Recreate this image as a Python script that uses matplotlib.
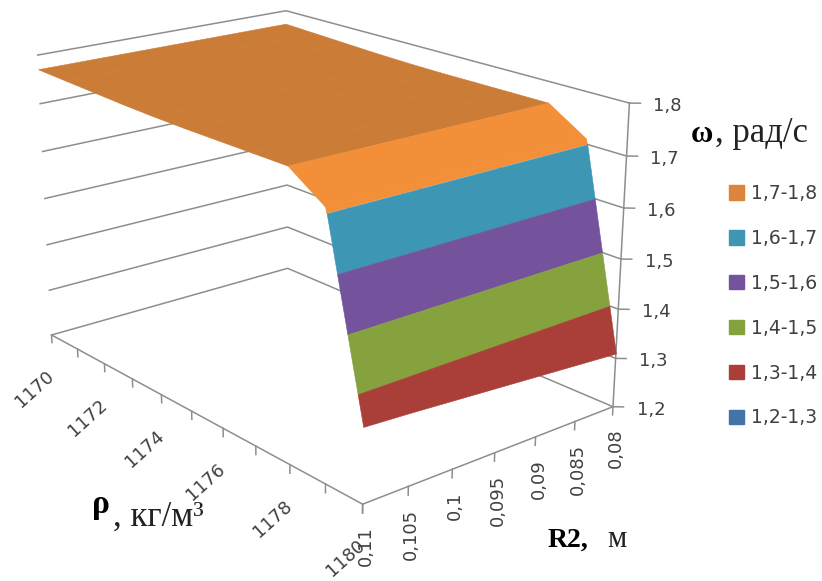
import numpy as np
import matplotlib
matplotlib.use('Agg')
import matplotlib.pyplot as plt
from matplotlib.patches import Patch
from mpl_toolkits.mplot3d import proj3d

plt.rcParams['font.family'] = ['DejaVu Sans']

# data
rho = [1170, 1171, 1172, 1173, 1174, 1175, 1176, 1177, 1178, 1179, 1180]
r2 = [0.08, 0.085, 0.09, 0.095, 0.1, 0.105, 0.11]
# omega along rho up to 1179 (same for every R2), then the last row at rho=1180 for each R2
omega = [1.77, 1.767, 1.764, 1.761, 1.759, 1.758, 1.758, 1.758, 1.758, 1.71]
omega_last = [1.31, 1.316, 1.322, 1.328, 1.334, 1.34, 1.345]

rho_labels = ['1170', '1172', '1174', '1176', '1178', '1180']
r2_labels = ['0,08', '0,085', '0,09', '0,095', '0,1', '0,105', '0,11']
z_levels = [1.2, 1.3, 1.4, 1.5, 1.6, 1.7, 1.8]
z_labels = ['1,2', '1,3', '1,4', '1,5', '1,6', '1,7', '1,8']

band_names = ['1,7-1,8', '1,6-1,7', '1,5-1,6', '1,4-1,5', '1,3-1,4', '1,2-1,3']
band_colors = ['#DB843D', '#3C96B4', '#74539C', '#85A23F', '#AA3F3A', '#4572A7']
plateau_color = '#CB7C36'
slope_color = '#F28F38'
grid_color = '#8E8E8E'
text_color = '#404040'

W, H = 822, 581
fig = plt.figure(figsize=(W / 100, H / 100), dpi=100)
ax = fig.add_axes([0.2, 0.1, 400 / W, 400 / H], projection='3d')
ax.set_xlim(rho[0], rho[-1])
ax.set_ylim(r2[-1], r2[0])
ax.set_zlim(z_levels[0], z_levels[-1])
ax.view_init(elev=18.98, azim=-39.59, roll=0.026)
ax.set_box_aspect((1.657, 1.053, 1), zoom=1.858)
ax.set_axis_off()
ax.computed_zorder = False
ax.patch.set_visible(False)

# put the projection where the box sits in the picture (pixel scale and origin)
scale, ox, oy = 1915.6, 319.65, H - 227.39
ax.apply_aspect()
t0, t1 = ax.transData.transform([[0, 0], [0.01, 0.01]])
s0 = (t1[0] - t0[0]) / 0.01
pos = ax.get_position()
side = pos.width * W * scale / s0
fx = (t0[0] - pos.x0 * W) / (pos.width * W)
fy = (t0[1] - pos.y0 * H) / (pos.height * H)
ax.set_position([(ox - fx * side) / W, (oy - fy * side) / H, side / W, side / H])


def line3d(xs, ys, zs, lw=1.1):
    ax.plot(xs, ys, zs, color=grid_color, lw=lw, clip_on=False, zorder=1)


# walls
for z in z_levels:
    line3d([rho[0], rho[0], rho[-1]], [r2[-1], r2[0], r2[0]], [z, z, z])
line3d([rho[0], rho[-1], rho[-1]], [r2[-1], r2[-1], r2[0]], [z_levels[0]] * 3)
line3d([rho[-1], rho[-1]], [r2[0], r2[0]], [z_levels[0], z_levels[-1]])

# ticks
for v in rho:
    line3d([v, v], [r2[-1], r2[-1]], [z_levels[0], z_levels[0] - 0.017])
for v in r2:
    line3d([rho[-1], rho[-1]], [v, v], [z_levels[0], z_levels[0] - 0.017])
for z in z_levels:
    line3d([rho[-1], rho[-1] + 0.134], [r2[0], r2[0] - 0.0007], [z, z])


# surface, split into colour bands at every 0,1 on the last (steep) rho step
def rho_at(level, end):
    return rho[-2] + (omega[-1] - level) / (omega[-1] - end) * (rho[-1] - rho[-2])


def patch_surface(X, Z, color):
    X = np.array(X)
    Z = np.array(Z)
    Y = np.tile(np.array(r2)[:, None], (1, X.shape[1]))
    # the cuts run straight across R2, one cell across is enough and leaves no seams
    s = ax.plot_surface(X, Y, Z, color=color, shade=False, rstride=len(r2) - 1, cstride=1,
                        linewidth=0.4, edgecolor=color, zorder=2)
    s.set_clip_on(False)


patch_surface([rho[:-2]] * len(r2), [omega[:-1]] * len(r2), plateau_color)
patch_surface([[rho[-3], rho[-2], rho_at(1.7, e)] for e in omega_last],
              [[omega[-2], omega[-1], 1.7]] * len(r2), slope_color)
for k in range(1, 5):
    hi = 1.7 - 0.1 * (k - 1)
    lo = hi - 0.1
    patch_surface([[rho_at(hi, e), rho_at(max(lo, e), e)] for e in omega_last],
                  [[hi, max(lo, e)] for e in omega_last], band_colors[k])

M = ax.get_proj()


def label(x, y, z, s, dx, dy, **kw):
    px, py, _ = proj3d.proj_transform(x, y, z, M)
    ax.annotate(s, (px, py), xytext=(dx, -dy), textcoords='offset pixels',
                annotation_clip=False, fontsize=13, color=text_color, **kw)


for v, s in zip(rho[::2], rho_labels):
    label(v, r2[-1], z_levels[0], s, -17, 54, rotation=42, ha='center', va='center',
          rotation_mode='anchor')
for v, s in zip(r2, r2_labels):
    label(rho[-1], v, z_levels[0], s, 3, 22, rotation=90, ha='center', va='top')
for z, s in zip(z_levels, z_labels):
    label(rho[-1], r2[0], z, s, 38, 3, ha='center', va='center')

# legend
handles = [Patch(color=c, label=n) for c, n in zip(band_colors, band_names)]
fig.legend(handles=handles, loc='upper left', bbox_to_anchor=(729 / W, 1 - 184 / H), frameon=False,
           fontsize=13.5, handlelength=0.8, handleheight=0.8, handletextpad=0.37, labelspacing=1.38,
           borderpad=0, borderaxespad=0, labelcolor=text_color)

# axis titles, as hand-placed in the original
serif = 'Liberation Serif'
fig.text(691 / W, 1 - 142 / H, 'ω', family=serif, weight='bold', fontsize=22, va='baseline')
fig.text(715 / W, 1 - 142 / H, ', рад/с', family=serif, fontsize=25, va='baseline', color='#222222')
fig.text(92 / W, 1 - 513 / H, 'ρ', family=serif, weight='bold', fontsize=24, va='baseline')
fig.text(113 / W, 1 - 526 / H, ', кг/м³', family=serif, fontsize=25, va='baseline', color='#222222')
fig.text(548 / W, 1 - 547 / H, 'R2,', family=serif, weight='bold', fontsize=20, va='baseline')
fig.text(607 / W, 1 - 547 / H, 'м', family=serif, fontsize=22, va='baseline', color='#222222')

fig.savefig('out.png')
